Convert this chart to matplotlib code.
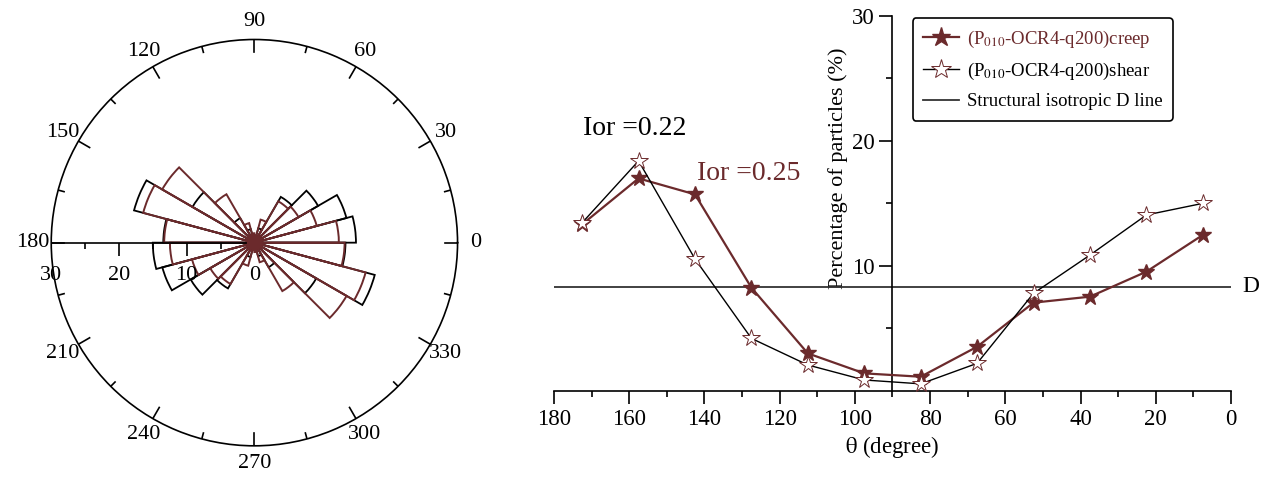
import numpy as np
import matplotlib
matplotlib.use("Agg")
import matplotlib.pyplot as plt

plt.rcParams['font.family'] = ['Liberation Serif', 'DejaVu Serif']
plt.rcParams['mathtext.fontset'] = 'stix'

# bin centres (degree) and percentage of particles in each bin
theta_bins = [7.5, 22.5, 37.5, 52.5, 67.5, 82.5, 97.5, 112.5, 127.5, 142.5, 157.5, 172.5]
creep_pct = [12.47, 9.53, 7.53, 7.05, 3.52, 1.12, 1.39, 2.99, 8.25, 15.72, 17.0, 13.32]
shear_pct = [15.0, 14.07, 10.86, 7.8, 2.19, 0.55, 0.86, 2.06, 4.19, 10.55, 18.4, 13.45]
d_line = 8.33
bin_width = 15

angle_ticks = list(range(0, 360, 30))
radius_ticks = [0, 10, 20, 30]
radius_minor = [5, 15, 25]

creep_label = r'(P$_{010}$-OCR4-q200)creep'
shear_label = r'(P$_{010}$-OCR4-q200)shear'
d_label = 'Structural isotropic D line'
ior_creep = 'Ior =0.25'
ior_shear = 'Ior =0.22'

brown = '#6b2a2c'

fig = plt.figure(figsize=(12.65, 4.8), dpi=100)

# ---- rose diagram (left) ----
ax = fig.add_axes([0.0405, 0.0708, 0.3212, 0.8473], projection='polar')
theta_full = np.deg2rad(np.concatenate([theta_bins, np.array(theta_bins) + 180]))
shear_full = np.concatenate([shear_pct, shear_pct])
creep_full = np.concatenate([creep_pct, creep_pct])
w = np.deg2rad(bin_width)
ax.bar(theta_full, shear_full, width=w, bottom=0, facecolor='none',
       edgecolor='black', linewidth=1.3)
ax.bar(theta_full, creep_full, width=w, bottom=0, facecolor='none',
       edgecolor=brown, linewidth=1.4)
# dense hub where all petals meet
ax.plot([0], [0], marker='o', ms=10, color=brown, zorder=5)
ax.set_ylim(0, 30)
ax.set_yticks([])
ax.grid(False)
ax.set_xticks(np.deg2rad(angle_ticks))
ax.set_xticklabels([str(a) for a in angle_ticks])
ax.tick_params(axis='x', which='major', length=0, pad=6, labelsize=16)
ax.spines['polar'].set_linewidth(1.2)

# inward angle ticks on the outer circle
for a in range(0, 360, 15):
    inner = 28.1 if a % 30 == 0 else 29.1
    ax.plot([np.deg2rad(a)] * 2, [inner, 30], color='black', lw=1.2)

# radial axis along 180 degrees
ax.plot([np.pi, np.pi], [0, 30], color='black', lw=1.2)
ax.plot([np.pi] * 2, radius_ticks[1:3], ls='none', marker=3, ms=9.5,
        mew=1.2, color='black')
ax.plot([np.pi] * 3, radius_minor, ls='none', marker=3, ms=4.5,
        mew=1.2, color='black')
for r in radius_ticks:
    ax.annotate(str(r), xy=(np.pi, r), xytext=(0, -24), textcoords='offset points',
                ha='center', va='center', fontsize=16, annotation_clip=False)

# ---- distribution curve (right) ----
ax2 = fig.add_axes([0.4379, 0.186, 0.5352, 0.7806])
ax2.plot(theta_bins, creep_pct, color=brown, lw=1.6, marker='*', ms=12,
         mfc=brown, mec=brown, label=creep_label, zorder=3)
ax2.plot(theta_bins, shear_pct, color='black', lw=1.0, marker='*', ms=13,
         mfc='white', mec=brown, mew=0.7, label=shear_label, zorder=4)
ax2.axhline(d_line, color='#333333', lw=1.3, label=d_label)
ax2.text(-3, d_line, 'D', fontsize=17, ha='left', va='center')

ax2.set_xlim(180, 0)
ax2.set_ylim(0, 30)
ax2.spines['top'].set_visible(False)
ax2.spines['right'].set_visible(False)
ax2.spines['left'].set_position(('data', 90))
for s in ['left', 'bottom']:
    ax2.spines[s].set_linewidth(1.2)
ax2.set_xticks(range(0, 181, 20))
ax2.set_xticks(range(10, 180, 20), minor=True)
ax2.set_yticks([10, 20, 30])
ax2.set_yticks([5, 15, 25], minor=True)
ax2.tick_params(which='major', direction='out', length=9.5, width=1.2, labelsize=16.5)
ax2.tick_params(which='minor', direction='out', length=4.5, width=1.2)
ax2.set_xlabel(r'$\mathrm{\theta}$ (degree)', fontsize=16.5, labelpad=3)
ax2.set_ylabel('Percentage of particles (%)', fontsize=16, va='center')
ax2.yaxis.set_label_coords(0.42, 0.593)

ax2.text(158.5, 21.0, ior_shear, fontsize=20, ha='center', va='center')
ax2.text(128.1, 17.4, ior_creep, fontsize=20, ha='center', va='center', color=brown)

leg = ax2.legend(loc='upper left', bbox_to_anchor=(912.7 / 1265, 1 - 18.3 / 480),
                 bbox_transform=fig.transFigure, borderaxespad=0, fontsize=13.5,
                 fancybox=True, framealpha=1, edgecolor='black',
                 handlelength=1.9, handletextpad=0.45, labelspacing=0.6,
                 borderpad=0.55, markerscale=1.15)
leg.get_frame().set_linewidth(1.2)
leg.get_texts()[0].set_color(brown)

fig.savefig('out.png', dpi=100)
